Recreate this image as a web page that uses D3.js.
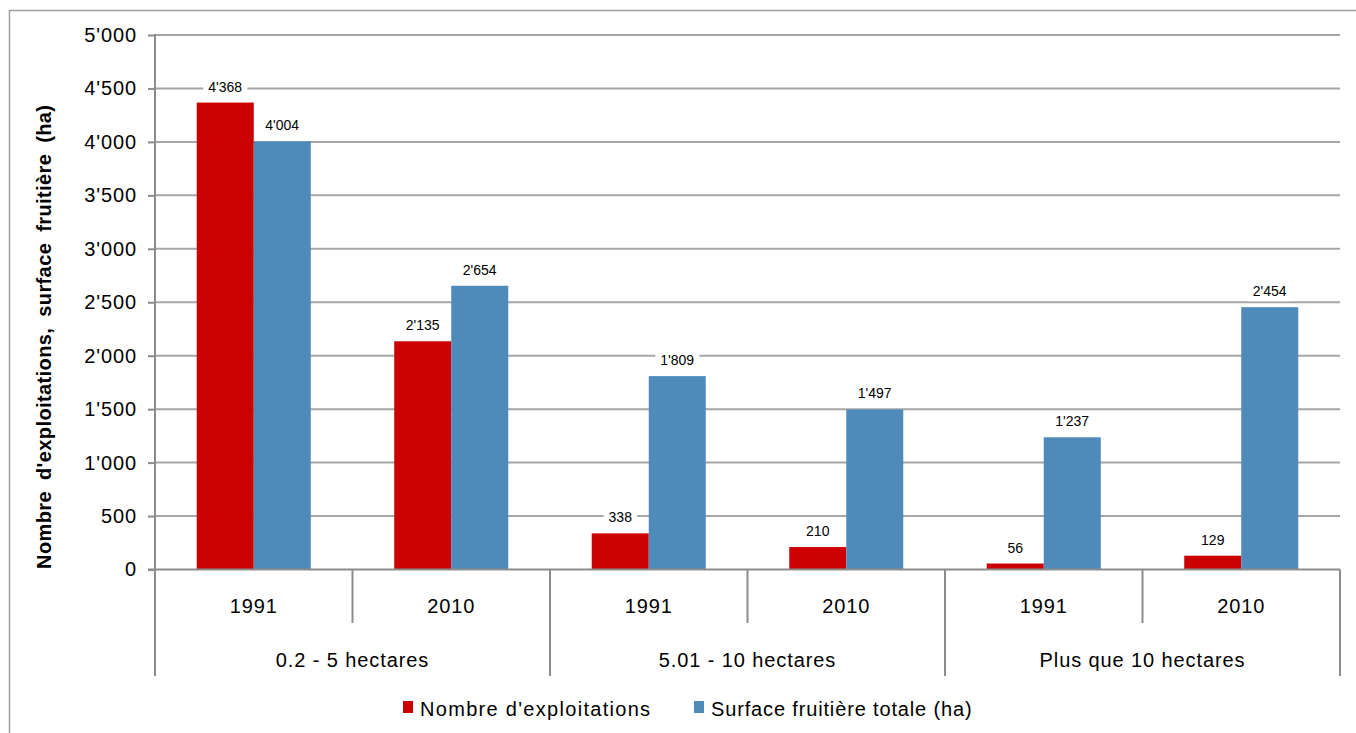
<!DOCTYPE html>
<html><head><meta charset="utf-8">
<script src="https://cdn.jsdelivr.net/npm/d3@7"></script>
<style>body{margin:0;background:#fff;} svg{display:block;font-family:"Liberation Sans",Arial,sans-serif;}</style>
</head><body>
<svg id="c" width="1356" height="733"></svg>
<script>
const groups = ["0.2 - 5 hectares", "5.01 - 10 hectares", "Plus que 10 hectares"];
const years = ["1991", "2010"];
const seriesNames = ["Nombre d'exploitations", "Surface fruitière totale (ha)"];
const exploitations = [4368, 2135, 338, 210, 56, 129];
const surface = [4004, 2654, 1809, 1497, 1237, 2454];
const yTicks = [0, 500, 1000, 1500, 2000, 2500, 3000, 3500, 4000, 4500, 5000];
const colors = ["#CC0000", "#4F8BBA"];

const loc = d3.formatLocale({decimal: ".", thousands: "'", grouping: [3], currency: ["", ""]});
const fmt = loc.format(",d");

const svg = d3.select("#c");
svg.append("rect").attr("x", 9.5).attr("y", 10.5).attr("width", 1400).attr("height", 800)
  .attr("fill", "none").attr("stroke", "#a0a0a0").attr("stroke-width", 1.5);

const L = 155, R = 1340, T = 35, B = 569.5;
const cats = [];
groups.forEach((g, gi) => years.forEach((yr, yi) => cats.push({key: gi + "-" + yr, group: gi, year: yr})));
const data = cats.map((c, i) => ({...c, values: [exploitations[i], surface[i]]}));

const x0 = d3.scaleBand().domain(cats.map(c => c.key)).range([L, R]).paddingInner(0).paddingOuter(0);
const x1 = d3.scaleBand().domain([0, 1]).range([0, x0.bandwidth()]).paddingInner(0).paddingOuter(0.732);
const y = d3.scaleLinear().domain([0, 5000]).range([B, T]);

// gridlines
svg.append("g").selectAll("line").data(yTicks.filter(d => d > 0)).join("line")
  .attr("x1", L).attr("x2", R).attr("y1", d => y(d)).attr("y2", d => y(d))
  .attr("stroke", "#a6a6a6").attr("stroke-width", 2);

// y axis
const yAxis = d3.axisLeft(y).tickValues(yTicks).tickFormat(fmt).tickSize(7).tickPadding(11);
const ga = svg.append("g").attr("transform", `translate(${L},0)`).call(yAxis);
ga.select(".domain").remove();
ga.selectAll(".tick line").attr("stroke", "#8c8c8c").attr("stroke-width", 2);
ga.selectAll(".tick text").attr("font-size", 20).attr("letter-spacing", 0.9).attr("fill", "#000").attr("font-family", "Liberation Sans, Arial, sans-serif");
svg.append("line").attr("x1", L).attr("x2", L).attr("y1", T - 1).attr("y2", B).attr("stroke", "#8c8c8c").attr("stroke-width", 2);

// bars
const gBars = svg.append("g");
data.forEach(d => {
  d.values.forEach((v, si) => {
    gBars.append("rect")
      .attr("x", x0(d.key) + x1(si)).attr("width", x1.bandwidth())
      .attr("y", y(v)).attr("height", B - y(v))
      .attr("fill", colors[si]);
  });
});

// x axis line
svg.append("line").attr("x1", L - 7).attr("x2", R).attr("y1", B).attr("y2", B).attr("stroke", "#8c8c8c").attr("stroke-width", 2);

// separators
const seps = [];
cats.forEach((c, i) => seps.push({x: x0(c.key), long: i % 2 === 0}));
seps.push({x: R, long: true});
svg.append("g").selectAll("line").data(seps).join("line")
  .attr("x1", d => d.x).attr("x2", d => d.x).attr("y1", B).attr("y2", d => d.long ? 676 : 623)
  .attr("stroke", "#8c8c8c").attr("stroke-width", 2);

// year labels
svg.append("g").selectAll("text").data(cats).join("text")
  .attr("x", d => x0(d.key) + x0.bandwidth() / 2).attr("y", 613)
  .attr("text-anchor", "middle").attr("font-size", 20).attr("letter-spacing", 0.9).text(d => d.year);
// group labels
svg.append("g").selectAll("text").data(groups).join("text")
  .attr("x", (d, i) => (x0(cats[i * 2].key) + x0(cats[i * 2 + 1].key) + x0.bandwidth()) / 2).attr("y", 667)
  .attr("text-anchor", "middle").attr("font-size", 20).attr("letter-spacing", 0.9).text(d => d);

// value labels
const gl = svg.append("g");
data.forEach(d => {
  d.values.forEach((v, si) => {
    const cx = x0(d.key) + x1(si) + x1.bandwidth() / 2;
    const by = y(v) - 11;
    const t = gl.append("text").attr("x", cx).attr("y", by).attr("text-anchor", "middle")
      .attr("font-size", 14).text(fmt(v));
    const bb = t.node().getBBox();
    gl.insert("rect", () => t.node()).attr("x", bb.x - 5).attr("y", bb.y - 2).attr("width", bb.width + 10).attr("height", bb.height + 4).attr("fill", "#fff");
  });
});

// y title
svg.append("text").attr("transform", `translate(51,${(B + 100) / 2 + 2}) rotate(-90)`)
  .attr("text-anchor", "middle").attr("font-size", 20).attr("font-weight", "bold")
  .attr("letter-spacing", 0.4).attr("word-spacing", 5)
  .text("Nombre d'exploitations,  surface fruitière (ha)");

// legend
const leg = [{x: 403, name: seriesNames[0], c: colors[0], ls: 1.3}, {x: 694, name: seriesNames[1], c: colors[1], ls: 0.85}];
leg.forEach(l => {
  svg.append("rect").attr("x", l.x).attr("y", 701).attr("width", 10).attr("height", 12).attr("fill", l.c);
  svg.append("text").attr("x", l.x + 17).attr("y", 716).attr("font-size", 20).attr("letter-spacing", l.ls).text(l.name);
});
</script>
</body></html>
